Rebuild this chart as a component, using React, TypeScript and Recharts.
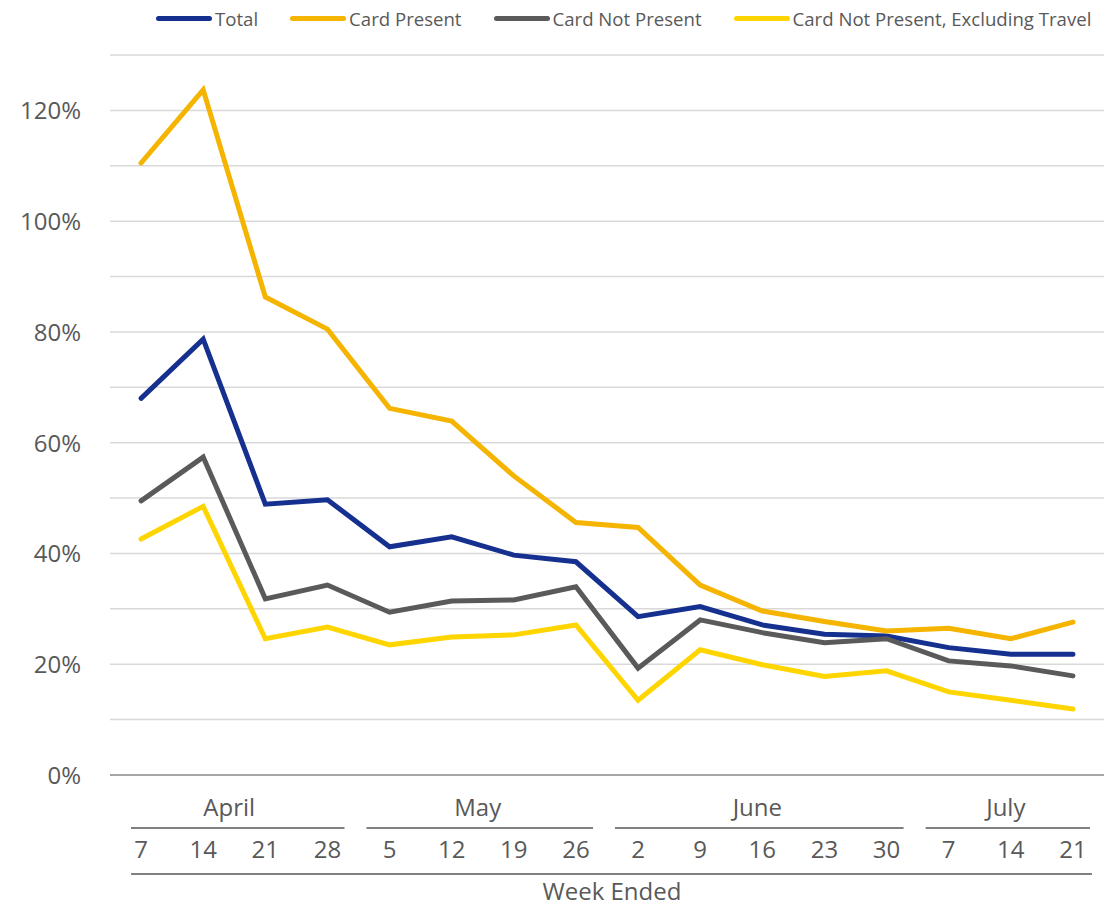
import { LineChart, Line, XAxis, YAxis, CartesianGrid } from 'recharts'

// week ended (day of month) and the month each week belongs to
const weekDays = ['7', '14', '21', '28', '5', '12', '19', '26', '2', '9', '16', '23', '30', '7', '14', '21']
const weekMonths = ['April', 'April', 'April', 'April', 'May', 'May', 'May', 'May', 'June', 'June', 'June', 'June', 'June', 'July', 'July', 'July']

// values in %
const total = [68.0, 78.7, 48.9, 49.7, 41.2, 43.0, 39.7, 38.5, 28.6, 30.4, 27.1, 25.4, 25.1, 23.0, 21.8, 21.8]
const cardPresent = [110.5, 123.7, 86.3, 80.5, 66.2, 63.9, 54.0, 45.6, 44.7, 34.3, 29.6, 27.7, 26.0, 26.5, 24.6, 27.6]
const cardNotPresent = [49.5, 57.4, 31.8, 34.3, 29.4, 31.4, 31.6, 34.0, 19.3, 28.0, 25.7, 23.9, 24.6, 20.6, 19.7, 17.9]
const cnpExTravel = [42.6, 48.5, 24.6, 26.7, 23.5, 24.9, 25.3, 27.1, 13.5, 22.6, 19.9, 17.8, 18.8, 15.0, 13.5, 11.9]

const yTicks = [0, 10, 20, 30, 40, 50, 60, 70, 80, 90, 100, 110, 120, 130]

const series = [
  { key: 'total', name: 'Total', color: '#15308f' },
  { key: 'cardPresent', name: 'Card Present', color: '#f5b400' },
  { key: 'cardNotPresent', name: 'Card Not Present', color: '#5a5a5a' },
  { key: 'cnpExTravel', name: 'Card Not Present, Excluding Travel', color: '#ffd500' },
]

const data = weekDays.map((d, i) => ({
  idx: i,
  day: d,
  total: total[i],
  cardPresent: cardPresent[i],
  cardNotPresent: cardNotPresent[i],
  cnpExTravel: cnpExTravel[i],
}))

const W = 1117
const H = 906
const LEFT = 110
const RIGHT = 1104
const TOP = 55
const BOTTOM = 775
const STEP = (RIGHT - LEFT) / weekDays.length
const FONT = '"Open Sans", "Noto Sans", sans-serif'
const TEXT = '#595959'

function PctTick(props: any) {
  const { y, payload } = props
  const v = payload.value
  if (v % 20 !== 0 || v > 120) return null
  return (
    <text x={81} y={y + 9} textAnchor="end" fill={TEXT} fontSize={24} fontFamily={FONT}>
      {v}%
    </text>
  )
}

function WeekTick(props: any) {
  const { x, payload } = props
  const i = payload.value
  const n = weekMonths.length
  const m = weekMonths[i]
  const first = i === 0 || weekMonths[i - 1] !== m
  const last = i === n - 1 || weekMonths[i + 1] !== m
  const half = STEP / 2
  const segL = x - half + (first ? (i === 0 ? 21 : 8) : -0.5)
  const segR = x + half - (last ? 14 : -0.5)
  const botL = i === 0 ? x - 10 : x - half - 0.5
  const botR = i === n - 1 ? x + 19 : x + half + 0.5

  let monthLabel = null
  if (first) {
    let e = i
    while (e + 1 < n && weekMonths[e + 1] === m) e++
    monthLabel = (
      <text x={x + ((e - i) * STEP) / 2 - 5} y={BOTTOM + 41} textAnchor="middle" fill={TEXT} fontSize={24} fontFamily={FONT}>
        {m}
      </text>
    )
  }

  return (
    <g>
      {monthLabel}
      <line x1={segL} x2={segR} y1={BOTTOM + 53} y2={BOTTOM + 53} stroke="#808080" strokeWidth={2} />
      <text x={x} y={BOTTOM + 83} textAnchor="middle" fill={TEXT} fontSize={24} fontFamily={FONT}>
        {weekDays[i]}
      </text>
      <line x1={botL} x2={botR} y1={BOTTOM + 99} y2={BOTTOM + 99} stroke="#808080" strokeWidth={2} />
      {i === 0 && (
        <text x={(LEFT + RIGHT) / 2 + 5} y={H - 6} textAnchor="middle" fill={TEXT} fontSize={24} fontFamily={FONT}>
          Week Ended
        </text>
      )}
    </g>
  )
}

export default function App() {
  return (
    <div style={{ position: 'absolute', left: 0, top: 0, width: W, height: H, background: '#fff', fontFamily: FONT }}>
      {/* legend */}
      <div
        style={{
          position: 'absolute',
          left: 156,
          top: 0,
          height: 36,
          display: 'flex',
          alignItems: 'center',
          gap: 32,
          fontSize: 18.6,
          color: TEXT,
          whiteSpace: 'nowrap',
        }}
      >
        {series.map((s) => (
          <div key={s.key} style={{ display: 'flex', alignItems: 'center' }}>
            <div style={{ width: 56, height: 5, borderRadius: 3, background: s.color, marginRight: 3 }} />
            <span>{s.name}</span>
          </div>
        ))}
      </div>

      <LineChart width={W} height={H} data={data} margin={{ top: TOP, right: W - RIGHT, left: 0, bottom: 0 }}>
        <CartesianGrid vertical={false} stroke="#d9d9d9" strokeWidth={1.5} />
        <XAxis
          dataKey="idx"
          type="category"
          height={H - BOTTOM}
          interval={0}
          tickLine={false}
          axisLine={{ stroke: '#a6a6a6', strokeWidth: 2 }}
          padding={{ left: STEP / 2, right: STEP / 2 }}
          tick={<WeekTick />}
        />
        <YAxis
          width={LEFT}
          domain={[0, 130]}
          ticks={yTicks}
          interval={0}
          tickLine={false}
          axisLine={false}
          tick={<PctTick />}
        />
        {series.map((s) => (
          <Line
            key={s.key}
            type="linear"
            dataKey={s.key}
            name={s.name}
            stroke={s.color}
            strokeWidth={5}
            strokeLinecap="round"
            dot={false}
            activeDot={false}
            isAnimationActive={false}
          />
        ))}
      </LineChart>
    </div>
  )
}
